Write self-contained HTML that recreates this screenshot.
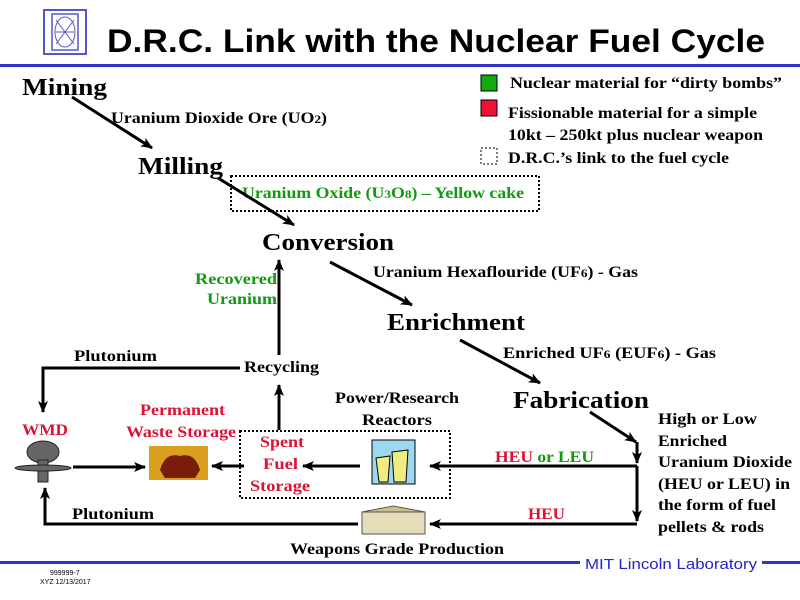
<!DOCTYPE html>
<html><head><meta charset="utf-8"><style>
html,body{margin:0;padding:0;background:#fff;}
svg{display:block}
.s{font-family:"Liberation Serif",serif;font-weight:bold;}
.h{font-size:24px}
.t{font-size:16px}
.r{fill:#dd1133}
.g{fill:#119911}
</style></head><body>
<svg width="800" height="600" viewBox="0 0 800 600" xmlns="http://www.w3.org/2000/svg">
<defs><marker id="b" markerWidth="12" markerHeight="10" refX="11" refY="5" orient="auto" markerUnits="userSpaceOnUse"><path d="M0,0 L12,5 L0,10 L3,5 Z" fill="#000"/></marker></defs>
<!-- logo -->
<rect x="44" y="10" width="42" height="44" fill="none" stroke="#5555cc" stroke-width="2"/>
<rect x="52" y="14" width="26" height="36" fill="none" stroke="#5555cc" stroke-width="1.5"/>
<ellipse cx="65" cy="32" rx="10" ry="15" fill="none" stroke="#5555cc"/>
<path d="M56,20 L74,44 M74,20 L56,44 M56,32 L74,32" stroke="#5555cc"/>
<text x="107" y="52" font-family="Liberation Sans,sans-serif" font-weight="bold" font-size="32" textLength="658" lengthAdjust="spacingAndGlyphs">D.R.C. Link with the Nuclear Fuel Cycle</text>
<rect x="0" y="64" width="800" height="3" fill="#3333cc"/>
<g class="s t" lengthAdjust="spacingAndGlyphs">
<!-- legend -->
<rect x="481" y="75" width="16" height="16" fill="#11aa11" stroke="#000"/>
<text x="510" y="88" textLength="272" lengthAdjust="spacingAndGlyphs">Nuclear material for “dirty bombs”</text>
<rect x="481" y="100" width="16" height="16" fill="#ee1133" stroke="#000"/>
<text x="508" y="118" textLength="249" lengthAdjust="spacingAndGlyphs">Fissionable material for a simple</text>
<text x="508" y="140" textLength="255" lengthAdjust="spacingAndGlyphs">10kt – 250kt plus nuclear weapon</text>
<rect x="481" y="148" width="16" height="16" fill="none" stroke="#000" stroke-dasharray="2,2"/>
<text x="508" y="163" textLength="221" lengthAdjust="spacingAndGlyphs">D.R.C.’s link to the fuel cycle</text>
<!-- chain -->
<text class="h" x="22" y="95" textLength="85" lengthAdjust="spacingAndGlyphs">Mining</text>
<text x="111" y="123" textLength="216" lengthAdjust="spacingAndGlyphs">Uranium Dioxide Ore (UO<tspan font-size="12">2</tspan>)</text>
<line x1="72" y1="97" x2="152" y2="148" stroke="#000" stroke-width="3" marker-end="url(#b)"/>
<text class="h" x="138" y="174" textLength="85" lengthAdjust="spacingAndGlyphs">Milling</text>
<rect x="231" y="176" width="308" height="35" fill="none" stroke="#000" stroke-width="2" stroke-dasharray="2,2"/>
<text class="g" x="242" y="198" textLength="282" lengthAdjust="spacingAndGlyphs">Uranium Oxide (U<tspan font-size="12">3</tspan>O<tspan font-size="12">8</tspan>) – Yellow cake</text>
<line x1="218" y1="178" x2="294" y2="225" stroke="#000" stroke-width="3" marker-end="url(#b)"/>
<text class="h" x="262" y="250" textLength="132" lengthAdjust="spacingAndGlyphs">Conversion</text>
<line x1="330" y1="262" x2="412" y2="305" stroke="#000" stroke-width="3" marker-end="url(#b)"/>
<text x="373" y="277" textLength="265" lengthAdjust="spacingAndGlyphs">Uranium Hexaflouride (UF<tspan font-size="12">6</tspan>) - Gas</text>
<text class="h" x="387" y="330" textLength="138" lengthAdjust="spacingAndGlyphs">Enrichment</text>
<line x1="460" y1="340" x2="540" y2="383" stroke="#000" stroke-width="3" marker-end="url(#b)"/>
<text x="503" y="358" textLength="213" lengthAdjust="spacingAndGlyphs">Enriched UF<tspan font-size="12">6</tspan> (EUF<tspan font-size="12">6</tspan>)  - Gas</text>
<text class="h" x="513" y="408" textLength="136" lengthAdjust="spacingAndGlyphs">Fabrication</text>
<line x1="590" y1="412" x2="636" y2="442" stroke="#000" stroke-width="3" marker-end="url(#b)"/>
<text class="g" x="195" y="284" textLength="82" lengthAdjust="spacingAndGlyphs">Recovered</text>
<text class="g" x="207" y="304" textLength="70" lengthAdjust="spacingAndGlyphs">Uranium</text>
<line x1="279" y1="355" x2="279" y2="260" stroke="#000" stroke-width="3" marker-end="url(#b)"/>
<text x="244" y="372" textLength="75" lengthAdjust="spacingAndGlyphs">Recycling</text>
<line x1="279" y1="430" x2="279" y2="385" stroke="#000" stroke-width="3" marker-end="url(#b)"/>
<polyline points="240,368 43,368 43,412" fill="none" stroke="#000" stroke-width="3" marker-end="url(#b)"/>
<text x="74" y="361" textLength="83" lengthAdjust="spacingAndGlyphs">Plutonium</text>
<text class="r" x="22" y="435" textLength="46" lengthAdjust="spacingAndGlyphs">WMD</text>
<!-- mushroom -->
<g fill="#666" stroke="#222" stroke-width="1">
<ellipse cx="43" cy="452" rx="16" ry="11"/><rect x="38" y="460" width="10" height="22"/>
<ellipse cx="43" cy="468" rx="28" ry="3"/></g>
<line x1="73" y1="467" x2="145" y2="467" stroke="#000" stroke-width="3" marker-end="url(#b)"/>
<text class="r" x="140" y="415" textLength="85" lengthAdjust="spacingAndGlyphs">Permanent</text>
<text class="r" x="126" y="437" textLength="110" lengthAdjust="spacingAndGlyphs">Waste Storage</text>
<rect x="149" y="446" width="59" height="34" fill="#d9a020"/>
<path d="M160,470 Q165,452 180,456 Q195,452 200,470 L195,478 L165,478 Z" fill="#7a1c0c"/>
<rect x="240" y="431" width="210" height="67" fill="none" stroke="#000" stroke-width="2" stroke-dasharray="2,2"/>
<text class="r" x="260" y="447" textLength="44" lengthAdjust="spacingAndGlyphs">Spent</text>
<text class="r" x="263" y="469" textLength="35" lengthAdjust="spacingAndGlyphs">Fuel</text>
<text class="r" x="250" y="491" textLength="60" lengthAdjust="spacingAndGlyphs">Storage</text>
<line x1="244" y1="466" x2="212" y2="466" stroke="#000" stroke-width="3" marker-end="url(#b)"/>
<line x1="360" y1="466" x2="303" y2="466" stroke="#000" stroke-width="3" marker-end="url(#b)"/>
<text x="335" y="403" textLength="124" lengthAdjust="spacingAndGlyphs">Power/Research</text>
<text x="362" y="425" textLength="70" lengthAdjust="spacingAndGlyphs">Reactors</text>
<rect x="372" y="440" width="43" height="44" fill="#9cd8f0" stroke="#000"/>
<path d="M376,458 L390,456 L388,482 L379,482 Z M392,452 L408,450 L406,482 L394,482 Z" fill="#f0ec80" stroke="#000"/>
<line x1="637" y1="466" x2="430" y2="466" stroke="#000" stroke-width="3" marker-end="url(#b)"/>
<text x="495" y="462" textLength="99" lengthAdjust="spacingAndGlyphs"><tspan class="r">HEU</tspan> <tspan class="g">or LEU</tspan></text>
<line x1="637" y1="442" x2="637" y2="463" stroke="#000" stroke-width="3" marker-end="url(#b)"/>
<line x1="637" y1="466" x2="637" y2="521" stroke="#000" stroke-width="3" marker-end="url(#b)"/>
<line x1="637" y1="524" x2="430" y2="524" stroke="#000" stroke-width="3" marker-end="url(#b)"/>
<text class="r" x="528" y="519" textLength="37" lengthAdjust="spacingAndGlyphs">HEU</text>
<rect x="362" y="512" width="63" height="22" fill="#e6dcb8" stroke="#555"/>
<path d="M362,512 L393,506 L425,512 Z" fill="#cbbf90" stroke="#555"/>
<polyline points="358,524 45,524 45,488" fill="none" stroke="#000" stroke-width="3" marker-end="url(#b)"/>
<text x="72" y="519" textLength="82" lengthAdjust="spacingAndGlyphs">Plutonium</text>
<text x="290" y="554" textLength="214" lengthAdjust="spacingAndGlyphs">Weapons Grade Production</text>
<text x="658" y="424" textLength="99" lengthAdjust="spacingAndGlyphs">High or Low</text>
<text x="658" y="446" textLength="69" lengthAdjust="spacingAndGlyphs">Enriched</text>
<text x="658" y="467" textLength="134" lengthAdjust="spacingAndGlyphs">Uranium Dioxide</text>
<text x="658" y="489" textLength="132" lengthAdjust="spacingAndGlyphs">(HEU or LEU) in</text>
<text x="658" y="510" textLength="118" lengthAdjust="spacingAndGlyphs">the form of fuel</text>
<text x="658" y="532" textLength="106" lengthAdjust="spacingAndGlyphs">pellets &amp; rods</text>
</g>
<rect x="0" y="561" width="580" height="3" fill="#3333cc"/>
<rect x="762" y="561" width="38" height="3" fill="#3333cc"/>
<text x="585" y="569" font-family="Liberation Sans,sans-serif" font-size="15" fill="#2222cc" textLength="172" lengthAdjust="spacingAndGlyphs">MIT Lincoln Laboratory</text>
<text x="50" y="575" font-family="Liberation Sans,sans-serif" font-size="7">999999-7</text>
<text x="40" y="584" font-family="Liberation Sans,sans-serif" font-size="7">XYZ 12/13/2017</text>
</svg>
</body></html>
